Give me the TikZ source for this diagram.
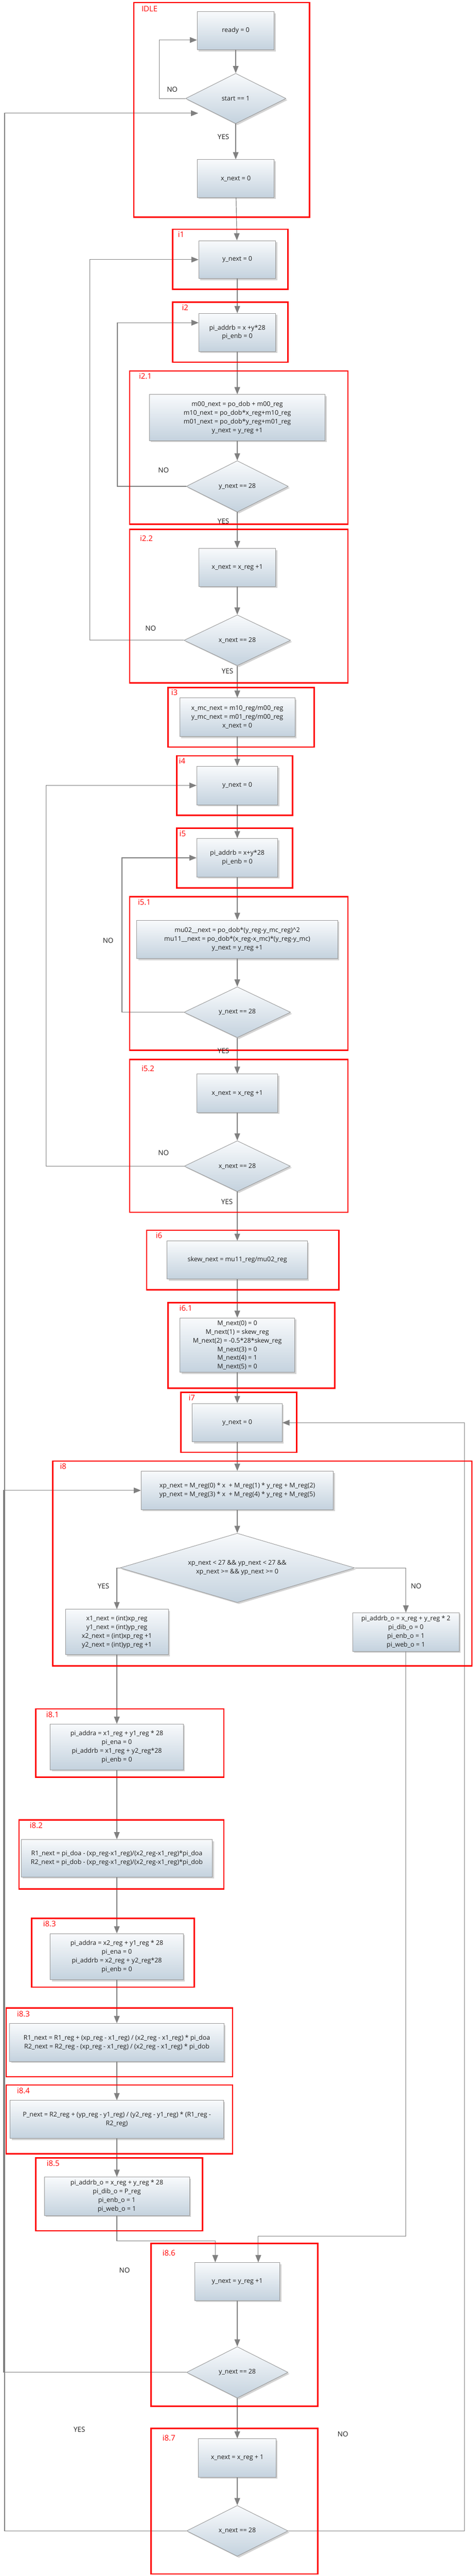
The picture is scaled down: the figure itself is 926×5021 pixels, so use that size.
\documentclass[tikz,border=0pt]{standalone}
\usepackage{fontspec}
\setmainfont{Open Sans}
\usetikzlibrary{shapes.geometric,shadows,arrows.meta}
\definecolor{myred}{RGB}{255, 0, 0}
\definecolor{mygray}{RGB}{128, 128, 128}
\definecolor{myborder}{RGB}{150, 150, 150}
\definecolor{mytext}{RGB}{30, 30, 30}
\definecolor{mytop}{RGB}{248, 250, 252}
\definecolor{mybottom}{RGB}{196, 210, 222}

\begin{document}
\begin{tikzpicture}[x=1pt, y=-1pt]
    \tikzstyle{box}=[rectangle, draw=myborder, line width=0.9pt, top color=mytop, bottom color=mybottom, text=mytext, align=center, inner sep=2pt, font=\fontsize{12.5}{17}\selectfont, drop shadow={shadow xshift=3pt, shadow yshift=-3pt, opacity=0.35}]
    \tikzstyle{decision}=[diamond, aspect=2, draw=myborder, line width=0.9pt, top color=mytop, bottom color=mybottom, text=mytext, align=center, inner sep=0pt, font=\fontsize{12.5}{17}\selectfont, drop shadow={shadow xshift=3pt, shadow yshift=-3pt, opacity=0.35}]
    \tikzstyle{zone}=[draw=myred, line width=2.6pt]
    \tikzstyle{zonetag}=[text=myred, anchor=west, inner sep=0pt, font=\fontsize{15}{18}\selectfont]
    \tikzstyle{branch}=[text=mytext, inner sep=0pt, font=\fontsize{13.5}{16}\selectfont]
    \tikzstyle{bind}=[-{Triangle[length=14pt, width=11pt]}, draw=mygray, line width=1.2pt]

    \useasboundingbox (0,0) rectangle (926,5021);

    \node[box, minimum width=150pt, minimum height=74pt] (ready) at (460,60) {ready = 0};
    \node[decision, minimum width=196pt, minimum height=98pt] (start) at (460,192) {start == 1};
    \node[box, minimum width=150pt, minimum height=74pt] (xzero) at (460,348) {x\_next = 0};

    \node[box, minimum width=150pt, minimum height=74pt] (yzeroA) at (463,506) {y\_next = 0};
    \node[box, minimum width=150pt, minimum height=74pt] (addrA) at (463,648) {pi\_addrb = x +y*28\\pi\_enb = 0};
    \node[box, minimum width=343pt, minimum height=90pt] (moments) at (463,814) {m00\_next = po\_dob + m00\_reg\\m10\_next = po\_dob*x\_reg+m10\_reg\\m01\_next = po\_dob*y\_reg+m01\_reg\\y\_next = y\_reg +1};
    \node[decision, minimum width=199pt, minimum height=100pt] (ycheckA) at (463,948) {y\_next == 28};
    \node[box, minimum width=150pt, minimum height=74pt] (xincA) at (463,1106) {x\_next = x\_reg +1};
    \node[decision, minimum width=208pt, minimum height=99pt] (xcheckA) at (463,1248) {x\_next == 28};

    \node[box, minimum width=225pt, minimum height=75pt] (centroid) at (463,1398) {x\_mc\_next = m10\_reg/m00\_reg\\y\_mc\_next = m01\_reg/m00\_reg\\x\_next = 0};
    \node[box, minimum width=158pt, minimum height=75pt] (yzeroB) at (463,1531) {y\_next = 0};
    \node[box, minimum width=158pt, minimum height=75pt] (addrB) at (463,1672) {pi\_addrb = x+y*28\\pi\_enb = 0};
    \node[box, minimum width=392pt, minimum height=75pt] (central) at (463,1831) {mu02\_\_next = po\_dob*(y\_reg-y\_mc\_reg)\textasciicircum2\\mu11\_\_next = po\_dob*(x\_reg-x\_mc)*(y\_reg-y\_mc)\\y\_next = y\_reg +1};
    \node[decision, minimum width=208pt, minimum height=99pt] (ycheckB) at (463,1973) {y\_next == 28};
    \node[box, minimum width=158pt, minimum height=75pt] (xincB) at (463,2131) {x\_next = x\_reg +1};
    \node[decision, minimum width=207pt, minimum height=99pt] (xcheckB) at (463,2273) {x\_next == 28};

    \node[box, minimum width=274pt, minimum height=74pt] (skew) at (463,2456) {skew\_next = mu11\_reg/mu02\_reg};
    \node[box, minimum width=224pt, minimum height=106pt] (affine) at (463,2622) {M\_next(0) = 0\\M\_next(1) = skew\_reg\\M\_next(2) = -0.5*28*skew\_reg\\M\_next(3) = 0\\M\_next(4) = 1\\M\_next(5) = 0};
    \node[box, minimum width=175pt, minimum height=75pt] (yzeroC) at (463,2773) {y\_next = 0};
    \node[box, minimum width=375pt, minimum height=75pt] (warp) at (463,2905) {xp\_next = M\_reg(0) * x \ + M\_reg(1) * y\_reg + M\_reg(2)\\yp\_next = M\_reg(3) * x \ + M\_reg(4) * y\_reg + M\_reg(5)};
    \node[decision, aspect=3.4, minimum width=458pt, minimum height=135pt] (inside) at (463,3056) {xp\_next < 27 \&\& yp\_next < 27 \&\&\\xp\_next >= \&\& yp\_next >= 0};
    \node[box, minimum width=201pt, minimum height=88pt] (ints) at (228,3181) {x1\_next = (int)xp\_reg\\y1\_next = (int)yp\_reg\\x2\_next = (int)xp\_reg +1\\y2\_next = (int)yp\_reg +1};
    \node[box, minimum width=208pt, minimum height=75pt] (outside) at (792,3181) {pi\_addrb\_o = x\_reg + y\_reg * 2\\pi\_dib\_o = 0\\pi\_enb\_o = 1\\pi\_web\_o = 1};

    \node[box, minimum width=260pt, minimum height=89pt] (fetchA) at (228,3405) {pi\_addra = x1\_reg + y1\_reg * 28\\pi\_ena = 0\\pi\_addrb = x1\_reg + y2\_reg*28\\pi\_enb = 0};
    \node[box, minimum width=373pt, minimum height=73pt] (rowsA) at (228,3622) {R1\_next = pi\_doa - (xp\_reg-x1\_reg)/(x2\_reg-x1\_reg)*pi\_doa\\R2\_next = pi\_dob - (xp\_reg-x1\_reg)/(x2\_reg-x1\_reg)*pi\_dob};
    \node[box, minimum width=260pt, minimum height=90pt] (fetchB) at (228,3814) {pi\_addra = x2\_reg + y1\_reg * 28\\pi\_ena = 0\\pi\_addrb = x2\_reg + y2\_reg*28\\pi\_enb = 0};
    \node[box, minimum width=418pt, minimum height=74pt] (rowsB) at (228,3981) {R1\_next = R1\_reg + (xp\_reg - x1\_reg) / (x2\_reg - x1\_reg) * pi\_doa\\R2\_next = R2\_reg - (xp\_reg - x1\_reg) / (x2\_reg - x1\_reg) * pi\_dob};
    \node[box, minimum width=416pt, minimum height=74pt] (pixel) at (228,4131) {P\_next = R2\_reg + (yp\_reg - y1\_reg) / (y2\_reg - y1\_reg) * (R1\_reg -\\R2\_reg)};
    \node[box, minimum width=283pt, minimum height=75pt] (store) at (228,4281) {pi\_addrb\_o = x\_reg + y\_reg * 28\\pi\_dib\_o = P\_reg\\pi\_enb\_o = 1\\pi\_web\_o = 1};

    \node[box, minimum width=166pt, minimum height=74pt] (yincC) at (463,4447) {y\_next = y\_reg +1};
    \node[decision, minimum width=198pt, minimum height=100pt] (ycheckC) at (463,4624) {y\_next == 28};
    \node[box, minimum width=151pt, minimum height=75pt] (xincC) at (463,4791) {x\_next = x\_reg + 1};
    \node[decision, minimum width=198pt, minimum height=99pt] (xcheckC) at (463,4933) {x\_next == 28};

    \draw[bind] (ready) -- (start);
    \draw[bind] (start) -- (xzero);
    \draw[bind] (start.west) -- (311,192) |- ([yshift=-18pt]ready.west);
    \draw[bind] (xzero) -- (yzeroA);
    \draw[bind] (yzeroA) -- (addrA);
    \draw[bind] (addrA) -- (moments);
    \draw[bind] (moments) -- (ycheckA);
    \draw[bind] (ycheckA.west) -- (229,948) |- ([yshift=19pt]addrA.west);
    \draw[bind] (ycheckA) -- (xincA);
    \draw[bind] (xincA) -- (xcheckA);
    \draw[bind] (xcheckA.west) -- (175,1248) |- (yzeroA.west);
    \draw[bind] (xcheckA) -- (centroid);
    \draw[bind] (centroid) -- (yzeroB);
    \draw[bind] (yzeroB) -- (addrB);
    \draw[bind] (addrB) -- (central);
    \draw[bind] (central) -- (ycheckB);
    \draw[bind] (ycheckB.west) -- (238,1973) |- (addrB.west);
    \draw[bind] (ycheckB) -- (xincB);
    \draw[bind] (xincB) -- (xcheckB);
    \draw[bind] (xcheckB.west) -- (90,2273) |- (yzeroB.west);
    \draw[bind] (xcheckB) -- (skew);
    \draw[bind] (skew) -- (affine);
    \draw[bind] (affine) -- (yzeroC);
    \draw[bind] (yzeroC) -- (warp);
    \draw[bind] (warp) -- (inside);
    \draw[bind] (inside.west) -| (ints);
    \draw[bind] (inside.east) -| (outside);
    \draw[bind] (ints) -- (fetchA);
    \draw[bind] (fetchA) -- (rowsA);
    \draw[bind] (rowsA) -- (fetchB);
    \draw[bind] (fetchB) -- (rowsB);
    \draw[bind] (rowsB) -- (pixel);
    \draw[bind] (pixel) -- (store);
    \draw[bind] (store.south) -- (228,4368) -| ([xshift=-43pt]yincC.north);
    \draw[bind] (outside.south) -- (792,4359) -| ([xshift=41pt]yincC.north);
    \draw[bind] (yincC) -- (ycheckC);
    \draw[bind] (ycheckC.west) -- (7,4624) |- (warp.west);
    \draw[bind] (ycheckC) -- (xincC);
    \draw[bind] (xincC) -- (xcheckC);
    \draw[bind] (xcheckC.west) -- (9,4933) |- ([xshift=-24pt,yshift=-4pt]start.south west);
    \draw[bind] (xcheckC.east) -- (906,4933) |- (yzeroC.east);

    \draw[zone] (261,5) rectangle (604,423);
    \draw[zone] (337,447) rectangle (562,564);
    \draw[zone] (337,589) rectangle (562,706);
    \draw[zone] (253,723) rectangle (679,1022);
    \draw[zone] (253,1032) rectangle (679,1331);
    \draw[zone] (328,1340) rectangle (613,1456);
    \draw[zone] (345,1473) rectangle (571,1589);
    \draw[zone] (345,1614) rectangle (571,1731);
    \draw[zone] (253,1748) rectangle (679,2047);
    \draw[zone] (253,2065) rectangle (679,2363);
    \draw[zone] (286,2398) rectangle (661,2514);
    \draw[zone] (328,2539) rectangle (653,2706);
    \draw[zone] (353,2714) rectangle (579,2831);
    \draw[zone] (103,2848) rectangle (921,3247);
    \draw[zone] (70,3331) rectangle (437,3464);
    \draw[zone] (37,3547) rectangle (437,3682);
    \draw[zone] (62,3739) rectangle (379,3873);
    \draw[zone] (12,3914) rectangle (454,4048);
    \draw[zone] (12,4064) rectangle (454,4198);
    \draw[zone] (70,4206) rectangle (395,4348);
    \draw[zone] (295,4373) rectangle (620,4690);
    \draw[zone] (295,4733) rectangle (620,5017);

    \node[zonetag] (tagIdle) at (276,17) {IDLE};
    \node[zonetag] (tagA) at (347,457) {i1};
    \node[zonetag] (tagB) at (355,600) {i2};
    \node[zonetag] (tagBa) at (271,733) {i2.1};
    \node[zonetag] (tagBb) at (273,1050) {i2.2};
    \node[zonetag] (tagC) at (334,1350) {i3};
    \node[zonetag] (tagD) at (349,1483) {i4};
    \node[zonetag] (tagE) at (350,1625) {i5};
    \node[zonetag] (tagEa) at (269,1758) {i5.1};
    \node[zonetag] (tagEb) at (276,2083) {i5.2};
    \node[zonetag] (tagF) at (304,2408) {i6};
    \node[zonetag] (tagFa) at (350,2550) {i6.1};
    \node[zonetag] (tagG) at (368,2724) {i7};
    \node[zonetag] (tagH) at (117,2858) {i8};
    \node[zonetag] (tagHa) at (90,3342) {i8.1};
    \node[zonetag] (tagHb) at (58,3558) {i8.2};
    \node[zonetag] (tagHc) at (84,3750) {i8.3};
    \node[zonetag] (tagHd) at (33,3925) {i8.3};
    \node[zonetag] (tagHe) at (33,4075) {i8.4};
    \node[zonetag] (tagHf) at (91,4217) {i8.5};
    \node[zonetag] (tagHg) at (317,4391) {i8.6};
    \node[zonetag] (tagHh) at (317,4752) {i8.7};

    \node[branch] (noA) at (336,174) {NO};
    \node[branch] (yesA) at (436,267) {YES};
    \node[branch] (noB) at (319,917) {NO};
    \node[branch] (yesB) at (436,1016) {YES};
    \node[branch] (noC) at (294,1225) {NO};
    \node[branch] (yesC) at (444,1308) {YES};
    \node[branch] (noD) at (211,1833) {NO};
    \node[branch] (yesD) at (436,2048) {YES};
    \node[branch] (noE) at (319,2247) {NO};
    \node[branch] (yesE) at (443,2342) {YES};
    \node[branch] (yesF) at (202,3092) {YES};
    \node[branch] (noF) at (812,3092) {NO};
    \node[branch] (noG) at (243,4425) {NO};
    \node[branch] (yesG) at (155,4735) {YES};
    \node[branch] (noH) at (669,4744) {NO};
\end{tikzpicture}
\end{document}
